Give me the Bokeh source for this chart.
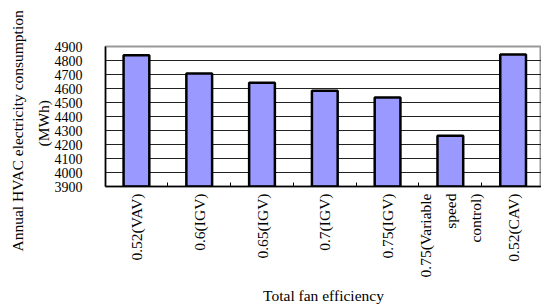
import math
from bokeh.plotting import figure
from bokeh.models import Range1d, FixedTicker, Title
from bokeh.embed import file_html
from bokeh.resources import INLINE

categories = ["0.52(VAV)", "0.6(IGV)", "0.65(IGV)", "0.7(IGV)", "0.75(IGV)",
              "0.75(Variable\nspeed\ncontrol)", "0.52(CAV)"]
values = [4838, 4708, 4641, 4584, 4536, 4263, 4842]
y_ticks = [3900, 4000, 4100, 4200, 4300, 4400, 4500, 4600, 4700, 4800, 4900]
y_title_lines = ["Annual HVAC electricity consumption", "(MWh)"]
x_title = "Total fan efficiency"

xs = list(range(1, len(categories) + 1))
FONT = "Liberation Serif"

p = figure(width=541, height=307, output_backend="svg", toolbar_location=None,
           x_range=Range1d(0.507, 7.452), y_range=Range1d(3900, 4900),
           min_border_left=100, min_border_right=0, min_border_top=46, min_border_bottom=121)

p.vbar(x=xs, top=values, bottom=3900, width=0.41, fill_color="#9999FF",
       line_color="black", line_width=2.5)

p.outline_line_color = "#999999"
p.outline_line_width = 2
p.background_fill_color = "white"

# y axis
p.yaxis.ticker = FixedTicker(ticks=y_ticks)
p.yaxis.major_tick_line_color = None
p.yaxis.minor_tick_line_color = None
p.yaxis.axis_line_color = "black"
p.yaxis.axis_line_width = 1.5
p.yaxis.major_label_text_font = FONT
p.yaxis.major_label_text_font_size = "14px"
p.yaxis.major_label_text_color = "black"
p.yaxis.major_label_standoff = 17

# y title: two lines, placed from the bottom with offsets
for txt, so, off in [(y_title_lines[1], 0, 40), (y_title_lines[0], 13, -65)]:
    p.add_layout(Title(text=txt, align="left", offset=off, standoff=so,
                       text_font=FONT, text_font_size="15.5px",
                       text_font_style="normal", text_color="black"), "left")

p.ygrid.ticker = FixedTicker(ticks=y_ticks)
p.ygrid.grid_line_color = "#222222"
p.ygrid.grid_line_width = 1
p.xgrid.grid_line_color = None

# x axis
p.xaxis.ticker = FixedTicker(ticks=xs, minor_ticks=[x + 0.5 for x in xs[:-1]])
p.xaxis.major_label_overrides = {x: c for x, c in zip(xs, categories)}
p.xaxis.major_tick_in = 0
p.xaxis.major_tick_out = 0
p.xaxis.minor_tick_in = 4
p.xaxis.minor_tick_out = 0
p.xaxis.minor_tick_line_color = "black"
p.xaxis.axis_line_color = "black"
p.xaxis.axis_line_width = 1.5
p.xaxis.major_label_orientation = math.pi / 2
p.xaxis.major_label_text_font = FONT
p.xaxis.major_label_text_font_size = "15.5px"
p.xaxis.major_label_text_line_height = 1.48
p.xaxis.major_label_text_color = "black"
p.xaxis.major_label_standoff = 7
p.xaxis.axis_label = x_title
p.xaxis.axis_label_text_font = FONT
p.xaxis.axis_label_text_font_style = "normal"
p.xaxis.axis_label_text_font_size = "15.5px"
p.xaxis.axis_label_text_color = "black"
p.xaxis.axis_label_standoff = 7

open("out.html", "w").write(file_html(p, INLINE))
